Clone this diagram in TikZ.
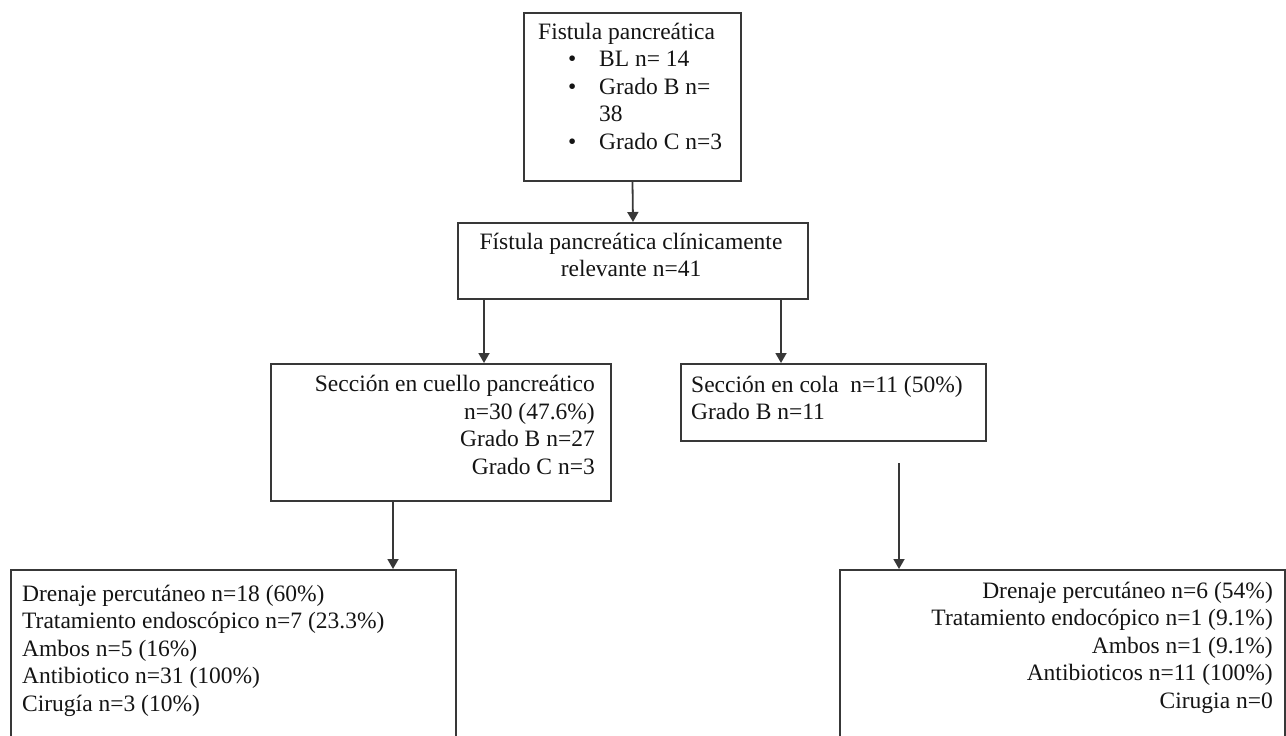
\documentclass[tikz,border=0pt]{standalone}
\usepackage{fontspec}
\setmainfont{Liberation Serif}
\usetikzlibrary{arrows.meta}
\definecolor{linec}{HTML}{383838}
\definecolor{txtc}{HTML}{141414}
\begin{document}
\begin{tikzpicture}[x=1pt,y=-1pt,
  box/.style={draw=linec, line width=2pt, inner sep=0pt, anchor=north west, rectangle},
  txt/.style={inner sep=0pt, font=\fontsize{23.5}{27.5}\selectfont, text=txtc},
  arrow/.style={draw=linec, line width=1.8pt, -{Triangle[length=10pt,width=11pt]}}]
\useasboundingbox (0,0) rectangle (1286,736);
\clip (0,0) rectangle (1286,736);
% boxes
\node[box, minimum width=217pt, minimum height=168pt] (b1) at (523,12) {};
\node[box, minimum width=350pt, minimum height=76pt] (b2) at (457,222) {};
\node[box, minimum width=340pt, minimum height=137pt] (b3) at (270,363) {};
\node[box, minimum width=305pt, minimum height=77pt] (b4) at (680,363) {};
\node[box, minimum width=445pt, minimum height=220pt] (b5) at (10,569) {};
\node[box, minimum width=445pt, minimum height=220pt] (b6) at (839,569) {};
% texts (base anchor = baseline of last line)
\node[txt, align=left, anchor=base west] (t1) at (538,149) {Fistula pancreática\\
\hspace*{30pt}\makebox[31pt][l]{•}BL n= 14\\
\hspace*{30pt}\makebox[31pt][l]{•}Grado B n=\\
\hspace*{61pt}38\\
\hspace*{30pt}\makebox[31pt][l]{•}Grado C n=3};
\node[txt, align=center, anchor=base] (t2) at (631,276.5) {Fístula pancreática clínicamente\\relevante n=41};
\node[txt, align=right, anchor=base east] (t3) at (595,474) {Sección en cuello pancreático\\n=30 (47.6\%)\\Grado B n=27\\Grado C n=3};
\node[txt, align=left, anchor=base west] (t4) at (691,419.5) {Sección en cola\ \ n=11 (50\%)\\Grado B n=11};
\node[txt, align=left, anchor=base west] (t5) at (22,711) {Drenaje percutáneo n=18 (60\%)\\Tratamiento endoscópico n=7 (23.3\%)\\Ambos n=5 (16\%)\\Antibiotico n=31 (100\%)\\Cirugía n=3 (10\%)};
\node[txt, align=right, anchor=base east] (t6) at (1273,708) {Drenaje percutáneo n=6 (54\%)\\Tratamiento endocópico n=1 (9.1\%)\\Ambos n=1 (9.1\%)\\Antibioticos n=11 (100\%)\\Cirugia n=0};
% connectors
\coordinate (c6) at (899,463);
\draw[arrow] (b1.south) -- (b2.north);
\draw[arrow] ([xshift=27pt]b2.south west) -- ([xshift=27pt]b2.south west |- b3.north);
\draw[arrow] ([xshift=-28pt]b2.south east) -- ([xshift=-28pt]b2.south east |- b4.north);
\draw[arrow] ([xshift=123pt]b3.south west) -- ([xshift=123pt]b3.south west |- b5.north);
\draw[arrow] (c6) -- (c6 |- b6.north);
\end{tikzpicture}
\end{document}
